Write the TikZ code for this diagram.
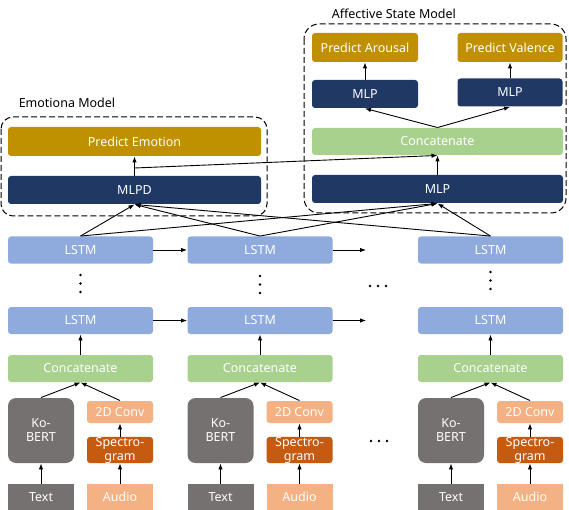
\documentclass[tikz,border=0pt]{standalone}
\usepackage{fontspec}
\setmainfont{Noto Sans}
\usetikzlibrary{arrows.meta}

\definecolor{goldbox}{RGB}{191,144,0}
\definecolor{navybox}{RGB}{32,56,100}
\definecolor{greenbox}{RGB}{169,209,142}
\definecolor{bluebox}{RGB}{143,170,220}
\definecolor{graybox}{RGB}{118,113,113}
\definecolor{peachbox}{RGB}{244,177,131}
\definecolor{rustbox}{RGB}{197,90,17}

\begin{document}
\begin{tikzpicture}[x=1pt,y=-1pt,line width=0.9pt,>={Latex[length=6pt,width=4.5pt]}]
    \tikzstyle{box}=[rounded corners=3pt,text=white,inner sep=0pt,align=center,font=\fontsize{12.5}{14}\selectfont]
    \tikzstyle{lstm}=[box,fill=bluebox,minimum width=145pt,minimum height=27pt]
    \tikzstyle{concat}=[box,fill=greenbox,minimum width=145pt,minimum height=27pt]
    \tikzstyle{bert}=[box,fill=graybox,rounded corners=8pt,minimum width=66pt,minimum height=65pt]
    \tikzstyle{txt}=[box,fill=graybox,rounded corners=0pt,minimum width=66pt,minimum height=26pt]
    \tikzstyle{conv}=[box,fill=peachbox,minimum width=66pt,minimum height=22pt]
    \tikzstyle{spec}=[box,fill=rustbox,minimum width=66pt,minimum height=26pt]
    \tikzstyle{audio}=[box,fill=peachbox,rounded corners=0pt,minimum width=66pt,minimum height=26pt]
    \tikzstyle{pred}=[box,fill=goldbox,minimum height=29pt]
    \tikzstyle{mlp}=[box,fill=navybox,minimum height=28pt]
    \tikzstyle{model}=[dash pattern=on 6pt off 3pt,line width=1pt]
    \tikzstyle{dot}=[circle,fill=black,inner sep=0pt,minimum size=2.8pt]

    \useasboundingbox (0,0) rectangle (569,510);

    % time steps
    \foreach \c/\x in {1/80.5, 2/260, 3/490.5}{
        \node[lstm] (L-top-\c) at (\x,250) {LSTM};
        \node[lstm] (L-bot-\c) at (\x,320.5) {LSTM};
        \node[concat] (C-\c) at (\x,368.5) {Concatenate};
        \node[bert] (B-\c) at (\x-39.5,430.5) {Ko-\\BERT};
        \node[conv] (V-\c) at (\x+39.5,412) {2D Conv};
        \node[spec] (S-\c) at (\x+39.5,450) {Spectro-\\gram};
        \node[txt] (T-\c) at (\x-39.5,497) {Text};
        \node[audio] (A-\c) at (\x+39.5,497) {Audio};

        \draw[->] (T-\c) -- (B-\c);
        \draw[->] (A-\c) -- (S-\c);
        \draw[->] (S-\c) -- (V-\c);
        \draw[->] (B-\c.north) -- (C-\c.south);
        \draw[->] (V-\c.north) -- (C-\c.south);
        \draw[->] (C-\c) -- (L-bot-\c);
    }
    \foreach \c/\y in {1/275, 1/283.5, 1/292, 2/276, 2/284.5, 2/293, 3/272, 3/280.5, 3/289}
        \node[dot] at (L-top-\c |- 0,\y) {};
    \foreach \x in {370, 378, 386}{
        \node[dot] at (\x,286) {};
        \node[dot] at (\x+1,441) {};
    }

    % recurrence
    \coordinate (G-top) at (366,250);
    \coordinate (G-bot) at (366,320.5);
    \draw[->] (L-top-1) -- (L-top-2);
    \draw[->] (L-top-2) -- (G-top);
    \draw[->] (L-bot-1) -- (L-bot-2);
    \draw[->] (L-bot-2) -- (G-bot);

    % emotion model
    \draw[model,rounded corners=12pt] (1,117) rectangle (267,216);
    \node[anchor=west,font=\fontsize{12.5}{14}\selectfont] (E-lbl) at (15,103) {Emotiona Model};
    \node[pred,minimum width=253pt] (E-pred) at (134.5,141.5) {Predict Emotion};
    \node[mlp,minimum width=253pt] (E-mlp) at (134.5,190) {MLPD};

    % affective state model
    \draw[model,rounded corners=15pt] (304,24) rectangle (566,213);
    \node[anchor=west,font=\fontsize{12.5}{14}\selectfont] (S-lbl) at (328,14) {Affective State Model};
    \node[pred,minimum width=106pt] (S-aro) at (365,47.5) {Predict Arousal};
    \node[pred,minimum width=105pt] (S-val) at (510,47.5) {Predict Valence};
    \node[mlp,minimum width=106pt] (S-mlpa) at (365,94) {MLP};
    \node[mlp,minimum width=105pt] (S-mlpv) at (510,92.5) {MLP};
    \node[concat,minimum width=251pt] (S-cat) at (437.5,141.5) {Concatenate};
    \node[mlp,minimum width=251pt] (S-mlp) at (437.5,189) {MLP};

    \draw[->] (E-mlp) -- (E-pred);
    \coordinate (J) at (134.5,168);
    \draw[->] (J) -- (S-cat.south);
    \draw[->] (S-mlp) -- (S-cat);
    \draw[->] (S-cat.north) -- (S-mlpa.south);
    \draw[->] (S-cat.north) -- (S-mlpv.south);
    \draw[->] (S-mlpa) -- (S-aro);
    \draw[->] (S-mlpv) -- (S-val);

    \foreach \c in {1,2,3}{
        \draw[->] (L-top-\c.north) -- (E-mlp.south);
        \draw[->] (L-top-\c.north) -- (S-mlp.south);
    }
\end{tikzpicture}
\end{document}
